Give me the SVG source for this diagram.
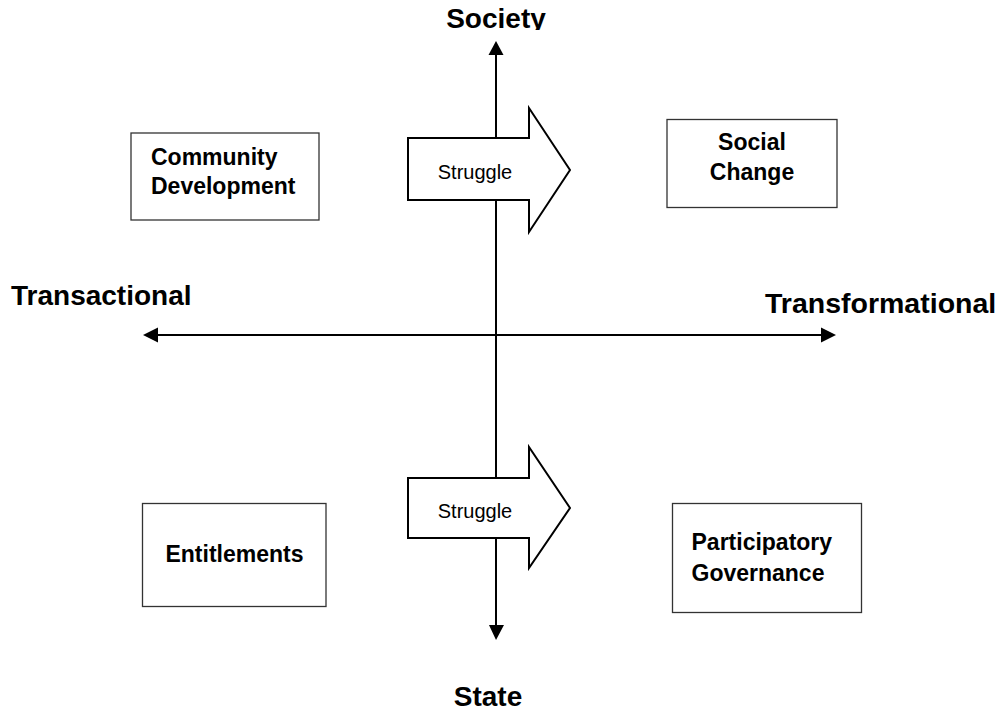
<svg xmlns="http://www.w3.org/2000/svg" width="999" height="716" viewBox="0 0 999 716">
  <style>
    .axis { stroke: #000; stroke-width: 2; fill: none; }
    .box { fill: #fff; stroke: #333; stroke-width: 1.3; }
    .shaft { fill: #fff; stroke: #000; stroke-width: 2; stroke-linejoin: miter; }
    .big { font-family: "Liberation Sans", Arial, sans-serif; font-weight: bold; font-size: 28px; fill: #000; }
    .lbl { font-family: "Liberation Sans", Arial, sans-serif; font-weight: bold; font-size: 23px; fill: #000; }
    .reg { font-family: "Liberation Sans", Arial, sans-serif; font-size: 20px; fill: #000; }
  </style>
  <defs>
    <clipPath id="topClip"><rect x="0" y="0" width="999" height="30"/></clipPath>
  </defs>
  <rect width="999" height="716" fill="#fff"/>

  <!-- axes -->
  <g id="connectors">
    <line class="axis" x1="496" y1="54" x2="496" y2="626"/>
    <polygon points="496,41 488.5,55 503.5,55" fill="#000"/>
    <polygon points="496,640 489,625 504,625" fill="#000"/>
    <line class="axis" x1="157" y1="335" x2="822" y2="335"/>
    <polygon points="143,335 158,327.5 158,342.5" fill="#000"/>
    <polygon points="836,335 821,327.5 821,342.5" fill="#000"/>
  </g>

  <!-- axis labels -->
  <g id="label-society"><text class="big" x="496" y="28" text-anchor="middle" clip-path="url(#topClip)">Society</text></g>
  <g id="label-state"><text class="big" x="488" y="706" text-anchor="middle">State</text></g>
  <g id="label-transactional"><text class="big" x="11" y="305">Transactional</text></g>
  <g id="label-transformational"><text class="big" x="765" y="313" style="font-size:28.5px">Transformational</text></g>

  <!-- block arrows -->
  <g id="struggle-top">
    <polygon class="shaft" points="408,138 529,138 529,108 570,170 529,232 529,200 408,200"/>
    <text class="reg" x="475" y="179" text-anchor="middle">Struggle</text>
  </g>
  <g id="struggle-bottom">
    <polygon class="shaft" points="408,478 529,478 529,447 570,508 529,568 529,538 408,538"/>
    <text class="reg" x="475" y="518" text-anchor="middle">Struggle</text>
  </g>

  <!-- quadrant boxes -->
  <g id="community-development">
    <rect class="box" x="131" y="133" width="188" height="87"/>
    <text class="lbl" x="151" y="165">Community</text>
    <text class="lbl" x="151" y="194">Development</text>
  </g>
  <g id="social-change">
    <rect class="box" x="667" y="119.5" width="170" height="88"/>
    <text class="lbl" x="752" y="150" text-anchor="middle">Social</text>
    <text class="lbl" x="752" y="180" text-anchor="middle">Change</text>
  </g>
  <g id="entitlements">
    <rect class="box" x="142.5" y="503.5" width="183.5" height="103"/>
    <text class="lbl" x="234.5" y="562" text-anchor="middle">Entitlements</text>
  </g>
  <g id="participatory-governance">
    <rect class="box" x="672.5" y="503.5" width="189" height="109"/>
    <text class="lbl" x="691.5" y="550">Participatory</text>
    <text class="lbl" x="691.5" y="581">Governance</text>
  </g>
</svg>
